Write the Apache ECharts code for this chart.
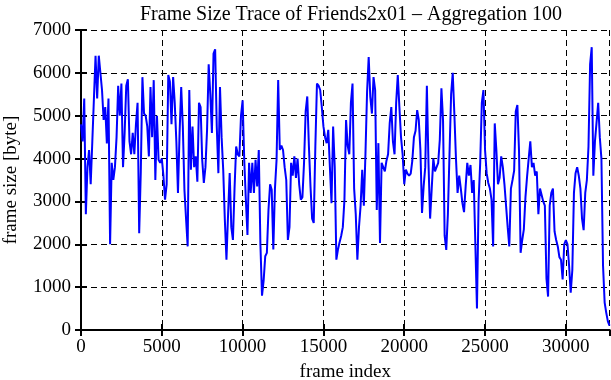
<!DOCTYPE html>
<html>
<head>
<meta charset="UTF-8">
<script src="https://cdn.jsdelivr.net/npm/echarts@6/dist/echarts.min.js"></script>
<style>
  html, body { margin: 0; padding: 0; background: #fff; }
  #chart { width: 611px; height: 380px; }
</style>
</head>
<body>
<div id="chart"></div>
<script>
// one point every 100 frames (aggregation 100)
var aggregation = 100;
var frameMax = 32700;
var xTicks = [0, 5000, 10000, 15000, 20000, 25000, 30000];
var yTicks = [0, 1000, 2000, 3000, 4000, 5000, 6000, 7000];

// frame size [byte]
var frameSize = [
  4800, 4400, 5400, 2700, 3800, 4200, 3400, 4400, 5400, 6400,
  5400, 6400, 6000, 5600, 4900, 5200, 4350, 5400, 2000, 3900,
  3500, 3800, 4500, 5700, 5000, 5750, 3800, 4600, 5700, 5850,
  4400, 4100, 4600, 4100, 4800, 5300, 2260, 3700, 5900, 5050,
  5000, 4750, 4050, 5670, 4500, 5830, 3500, 5000, 3970, 3900,
  4000, 3600, 3040, 3400, 5950,
  5800, 4800, 5900, 5300, 4400, 3200, 4600, 5670, 4750, 3270,
  2600, 1950, 5600, 3740, 4750, 3800, 4050, 3460, 5300, 5200,
  3970, 3430, 3800, 4670, 6200, 5500, 4600, 6450, 6550, 4750,
  3660, 5670, 4500, 3730, 2570, 1640, 2700, 3660, 2400, 2100,
  3300, 4280, 4100, 4050, 5000, 5360, 3970, 3040, 2220, 3900,
  3200, 3900, 3200, 3970, 3350, 4200,
  2000, 800, 1150, 1720, 1800, 2800, 3400, 3270, 1880, 3300,
  3970, 5830, 4200, 4300, 4200, 3800, 3500, 2100, 2400, 3900,
  3600, 4050, 3550, 4000, 3400, 3040, 3100, 3900, 5100, 5450,
  4300, 3350, 2600, 2500, 4280, 5750, 5700, 5600, 5200, 4750,
  4500, 4360, 4670, 3800, 2960, 4750, 3800, 1640, 1880, 2050,
  2200, 2400, 3040, 4900, 4300,
  4100, 5300, 5750, 3300, 2700, 1640, 2400, 2900, 3740, 2900,
  4100, 5550, 6370, 5440, 5050, 5900, 5600, 2800, 4360, 2030,
  3900, 3800, 3700, 3950, 4100, 4820, 5200, 4400, 4100, 5300,
  5950, 5200, 4500, 4100, 3400, 3740, 3650, 3600, 3650, 3950,
  4500, 4650, 5130, 4900, 4200, 2730, 3350, 3800, 5700, 3900,
  2600, 3300, 4000, 3700, 3660, 3900,
  4440, 5640, 4900, 2200, 1870, 2700, 4100, 5500, 6000, 5050,
  4000, 3200, 3600, 3300, 2960, 2750, 3350, 3900, 3600, 3850,
  3200, 3500, 3500, 500, 3000, 3900, 5300, 5600, 4200, 3660,
  3430, 3300, 3040, 1950, 4820, 4200, 3400, 3550, 4050, 3800,
  3400, 2900, 2400, 1950, 3300, 3500, 3720, 5100, 5250, 4200,
  1800, 2100, 2350, 3100, 3580, 4000,
  4400, 3800, 3900, 3600, 3700, 2700, 3300, 3300, 3000, 2900,
  1200, 780, 2900, 3200, 3300, 2300, 2100, 1950, 1700, 1640,
  1180, 2000, 2100, 2000, 1500, 870, 1400, 3200, 3660, 3800,
  3600, 3300, 2600, 2330, 3200, 3500, 4280, 6200, 6600, 3600,
  4400, 4360, 5300, 4500, 4000, 1500, 640, 400, 200, 100
];

var seriesData = frameSize.map(function (v, i) {
  return [i * aggregation, v];
});

var font = 'Liberation Serif';
var chart = echarts.init(document.getElementById('chart'), null, { renderer: 'canvas' });

var dashed = { show: true, lineStyle: { color: '#000', type: [6, 4], width: 1 } };
var frameLine = { show: true, lineStyle: { color: '#000', width: 2 } };
var innerTick = { show: true, inside: true, length: 6, lineStyle: { color: '#000', width: 2 } };

chart.setOption({
  animation: false,
  backgroundColor: '#fff',
  title: {
    text: 'Frame Size Trace of Friends2x01 \u2013 Aggregation 100',
    left: 135,
    top: 0,
    textStyle: { fontFamily: font, fontSize: 20, fontWeight: 'normal', color: '#000' }
  },
  grid: { left: 81, right: 1.5, top: 30, bottom: 50, containLabel: false, outerBoundsMode: 'none' },
  xAxis: [{
    type: 'value',
    min: 0,
    max: frameMax,
    interval: xTicks[1] - xTicks[0],
    name: 'frame index',
    nameLocation: 'middle',
    nameGap: 33,
    nameTextStyle: { fontFamily: font, fontSize: 19, color: '#000' },
    axisLine: frameLine,
    axisTick: innerTick,
    splitLine: dashed,
    axisLabel: {
      fontFamily: font, fontSize: 19, color: '#000', margin: 8,
      showMaxLabel: false,
      formatter: function (v) { return xTicks.indexOf(v) >= 0 ? String(v) : ''; }
    }
  }, {
    type: 'value',
    position: 'top',
    min: 0,
    max: frameMax,
    interval: xTicks[1] - xTicks[0],
    axisLine: frameLine,
    axisTick: innerTick,
    splitLine: { show: false },
    axisLabel: { show: false }
  }],
  yAxis: [{
    type: 'value',
    min: yTicks[0],
    max: yTicks[yTicks.length - 1],
    interval: yTicks[1] - yTicks[0],
    name: 'frame size [byte]',
    nameLocation: 'middle',
    nameGap: 60,
    nameTextStyle: { fontFamily: font, fontSize: 19, color: '#000' },
    axisLine: frameLine,
    axisTick: innerTick,
    splitLine: dashed,
    axisLabel: {
      fontFamily: font, fontSize: 19, color: '#000', margin: 10,
      formatter: function (v) { return String(v); }
    }
  }, {
    type: 'value',
    position: 'right',
    min: yTicks[0],
    max: yTicks[yTicks.length - 1],
    interval: yTicks[1] - yTicks[0],
    axisLine: frameLine,
    axisTick: innerTick,
    splitLine: { show: false },
    axisLabel: { show: false }
  }],
  series: [{
    type: 'line',
    data: seriesData,
    xAxisIndex: 0,
    yAxisIndex: 0,
    showSymbol: false,
    symbol: 'none',
    lineStyle: { color: '#0000ff', width: 2 },
    z: 3
  }]
});
</script>
</body>
</html>
